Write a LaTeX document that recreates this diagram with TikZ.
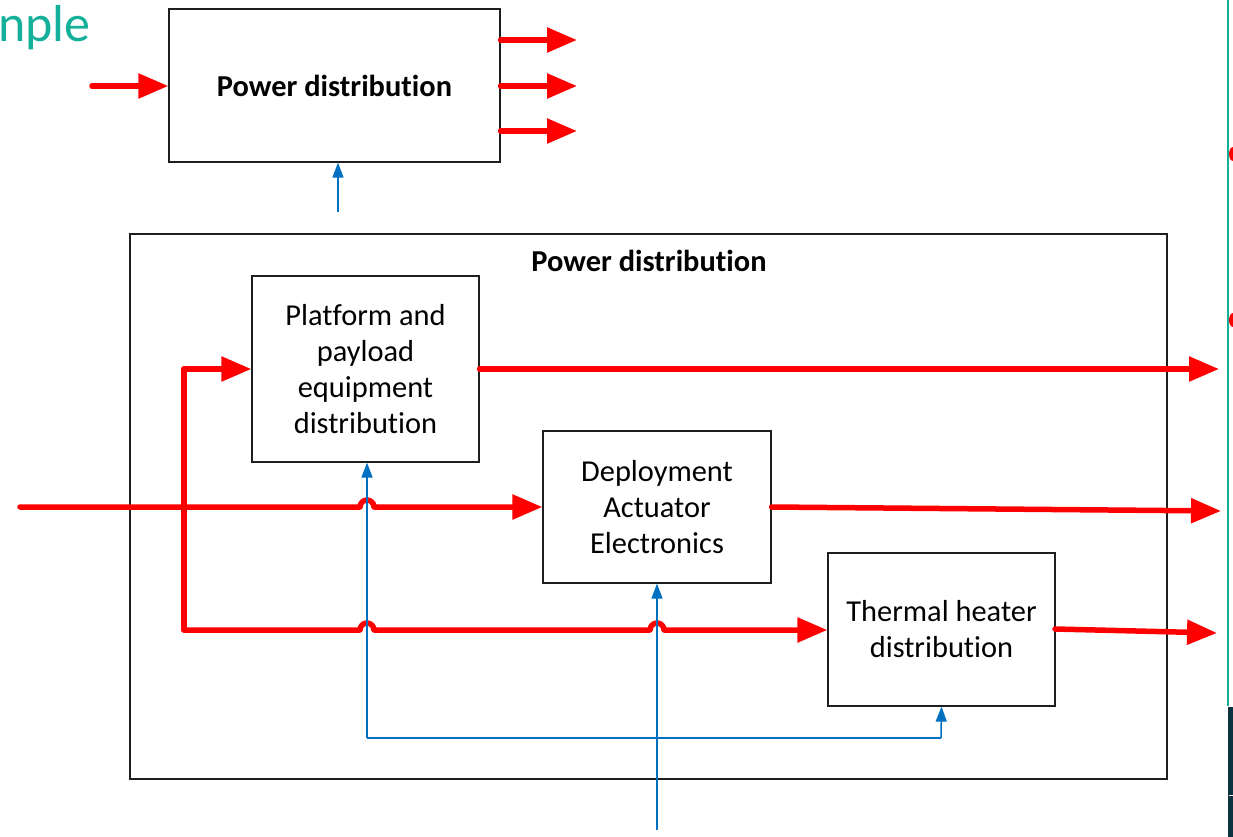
\documentclass[tikz,border=0pt]{standalone}
\usepackage{fontspec}
\setmainfont{Carlito}[Ligatures={NoCommon}]
\usetikzlibrary{arrows.meta}
\definecolor{pwred}{RGB}{255,0,0}
\definecolor{pwblue}{RGB}{0,112,192}
\definecolor{pwteal}{RGB}{20,176,154}
\definecolor{pwdark}{RGB}{12,52,64}
\definecolor{pwgray}{RGB}{30,30,30}
\tikzset{
  blk/.style={draw=pwgray, line width=1.2pt, fill=white, align=center, inner sep=0pt, font=\fontsize{30.4}{36}\selectfont},
  title/.style={font=\fontsize{30.4}{34}\selectfont\bfseries, inner sep=0pt},
  redarrow/.style={draw=pwred, line width=5.5pt, line cap=round, line join=round, -{Triangle[length=30pt,width=24pt]}},
  redline/.style={draw=pwred, line width=5.5pt, line cap=round, line join=round},
  bluearrow/.style={draw=pwblue, line width=1.5pt, -{Triangle[length=15pt,width=11pt]}},
  blueline/.style={draw=pwblue, line width=1.5pt},
}
\begin{document}
\begin{tikzpicture}[x=1pt,y=-1pt]
\useasboundingbox (0,0) rectangle (1233,837);
\fill[white] (0,0) rectangle (1233,837);
% slide fragments
\node[anchor=base west, inner sep=0pt, text=pwteal, font=\fontsize{52}{56}\selectfont] (ttl) at (-2,42) {nple};
\draw[pwteal, line width=2pt] (1228,0) -- (1228,706);
\fill[pwdark] (1228,707) rectangle (1233,837);
\draw[white, line width=0.8pt] (1229,795) -- (1233,795);
\fill[pwred] (1233,154) ellipse (4pt and 7pt);
\fill[pwred] (1233,320) ellipse (4pt and 7pt);

% top box
\node[blk, minimum width=331pt, minimum height=153pt] (top) at (334.5,85.5) {};
\node[title] (toptext) at (334.5,86) {Power distribution};
\coordinate (tin) at (92,86);
\coordinate (to1) at (577,40);
\coordinate (to2) at (577,86);
\coordinate (to3) at (577,131);
\draw[redarrow] (tin) -- (top.west |- tin);
\draw[redarrow] (top.east |- to1) -- (to1);
\draw[redarrow] (top.east |- to2) -- (to2);
\draw[redarrow] (top.east |- to3) -- (to3);
\coordinate (tb) at (338,212);
\draw[bluearrow] (tb) -- (tb |- top.south);

% big box
\node[draw=pwgray, line width=1.2pt, minimum width=1037pt, minimum height=545pt, inner sep=0pt] (big) at (648.5,506.5) {};
\node[title] (bigtext) at (649,261) {Power distribution};

% inner boxes
\node[blk, minimum width=227pt, minimum height=186pt] (A) at (365.5,369) {Platform and\\payload\\equipment\\distribution};
\node[blk, minimum width=228pt, minimum height=152pt] (B) at (657,507) {Deployment\\Actuator\\Electronics};
\node[blk, minimum width=227pt, minimum height=153pt] (C) at (941.5,629.5) {Thermal heater\\distribution};

% red power lines
\coordinate (oA) at (1219,369);
\coordinate (oB) at (1221,511);
\coordinate (oC) at (1217,633);
\coordinate (inL) at (20,507);
\coordinate (j1) at (184,369);
\coordinate (j2) at (184,630);
\draw[redarrow] (A.east |- oA) -- (oA);
\draw[redarrow] (B.east) -- (oB);
\draw[redarrow] (1055,629) -- (oC);
\draw[redarrow] (inL) -- (360,507) arc[start angle=180,end angle=360,radius=7] -- (B.west);
\draw[redline] (j2) -- (j1);
\draw[redarrow] (j1) -- (A.west |- j1);
\draw[redarrow] (j2) -- (360,630) arc[start angle=180,end angle=360,radius=7]
   -- (650,630) arc[start angle=180,end angle=360,radius=7] -- (C.west |- j2);

% blue control lines
\coordinate (bA) at (367,738);
\coordinate (bC) at (941,738);
\coordinate (bB) at (657,830);
\draw[bluearrow] (bA) -- (bA |- A.south);
\draw[blueline] (bA) -- (bC);
\draw[bluearrow] (bC) -- (C.south);
\draw[bluearrow] (bB) -- (bB |- B.south);
\end{tikzpicture}
\end{document}
